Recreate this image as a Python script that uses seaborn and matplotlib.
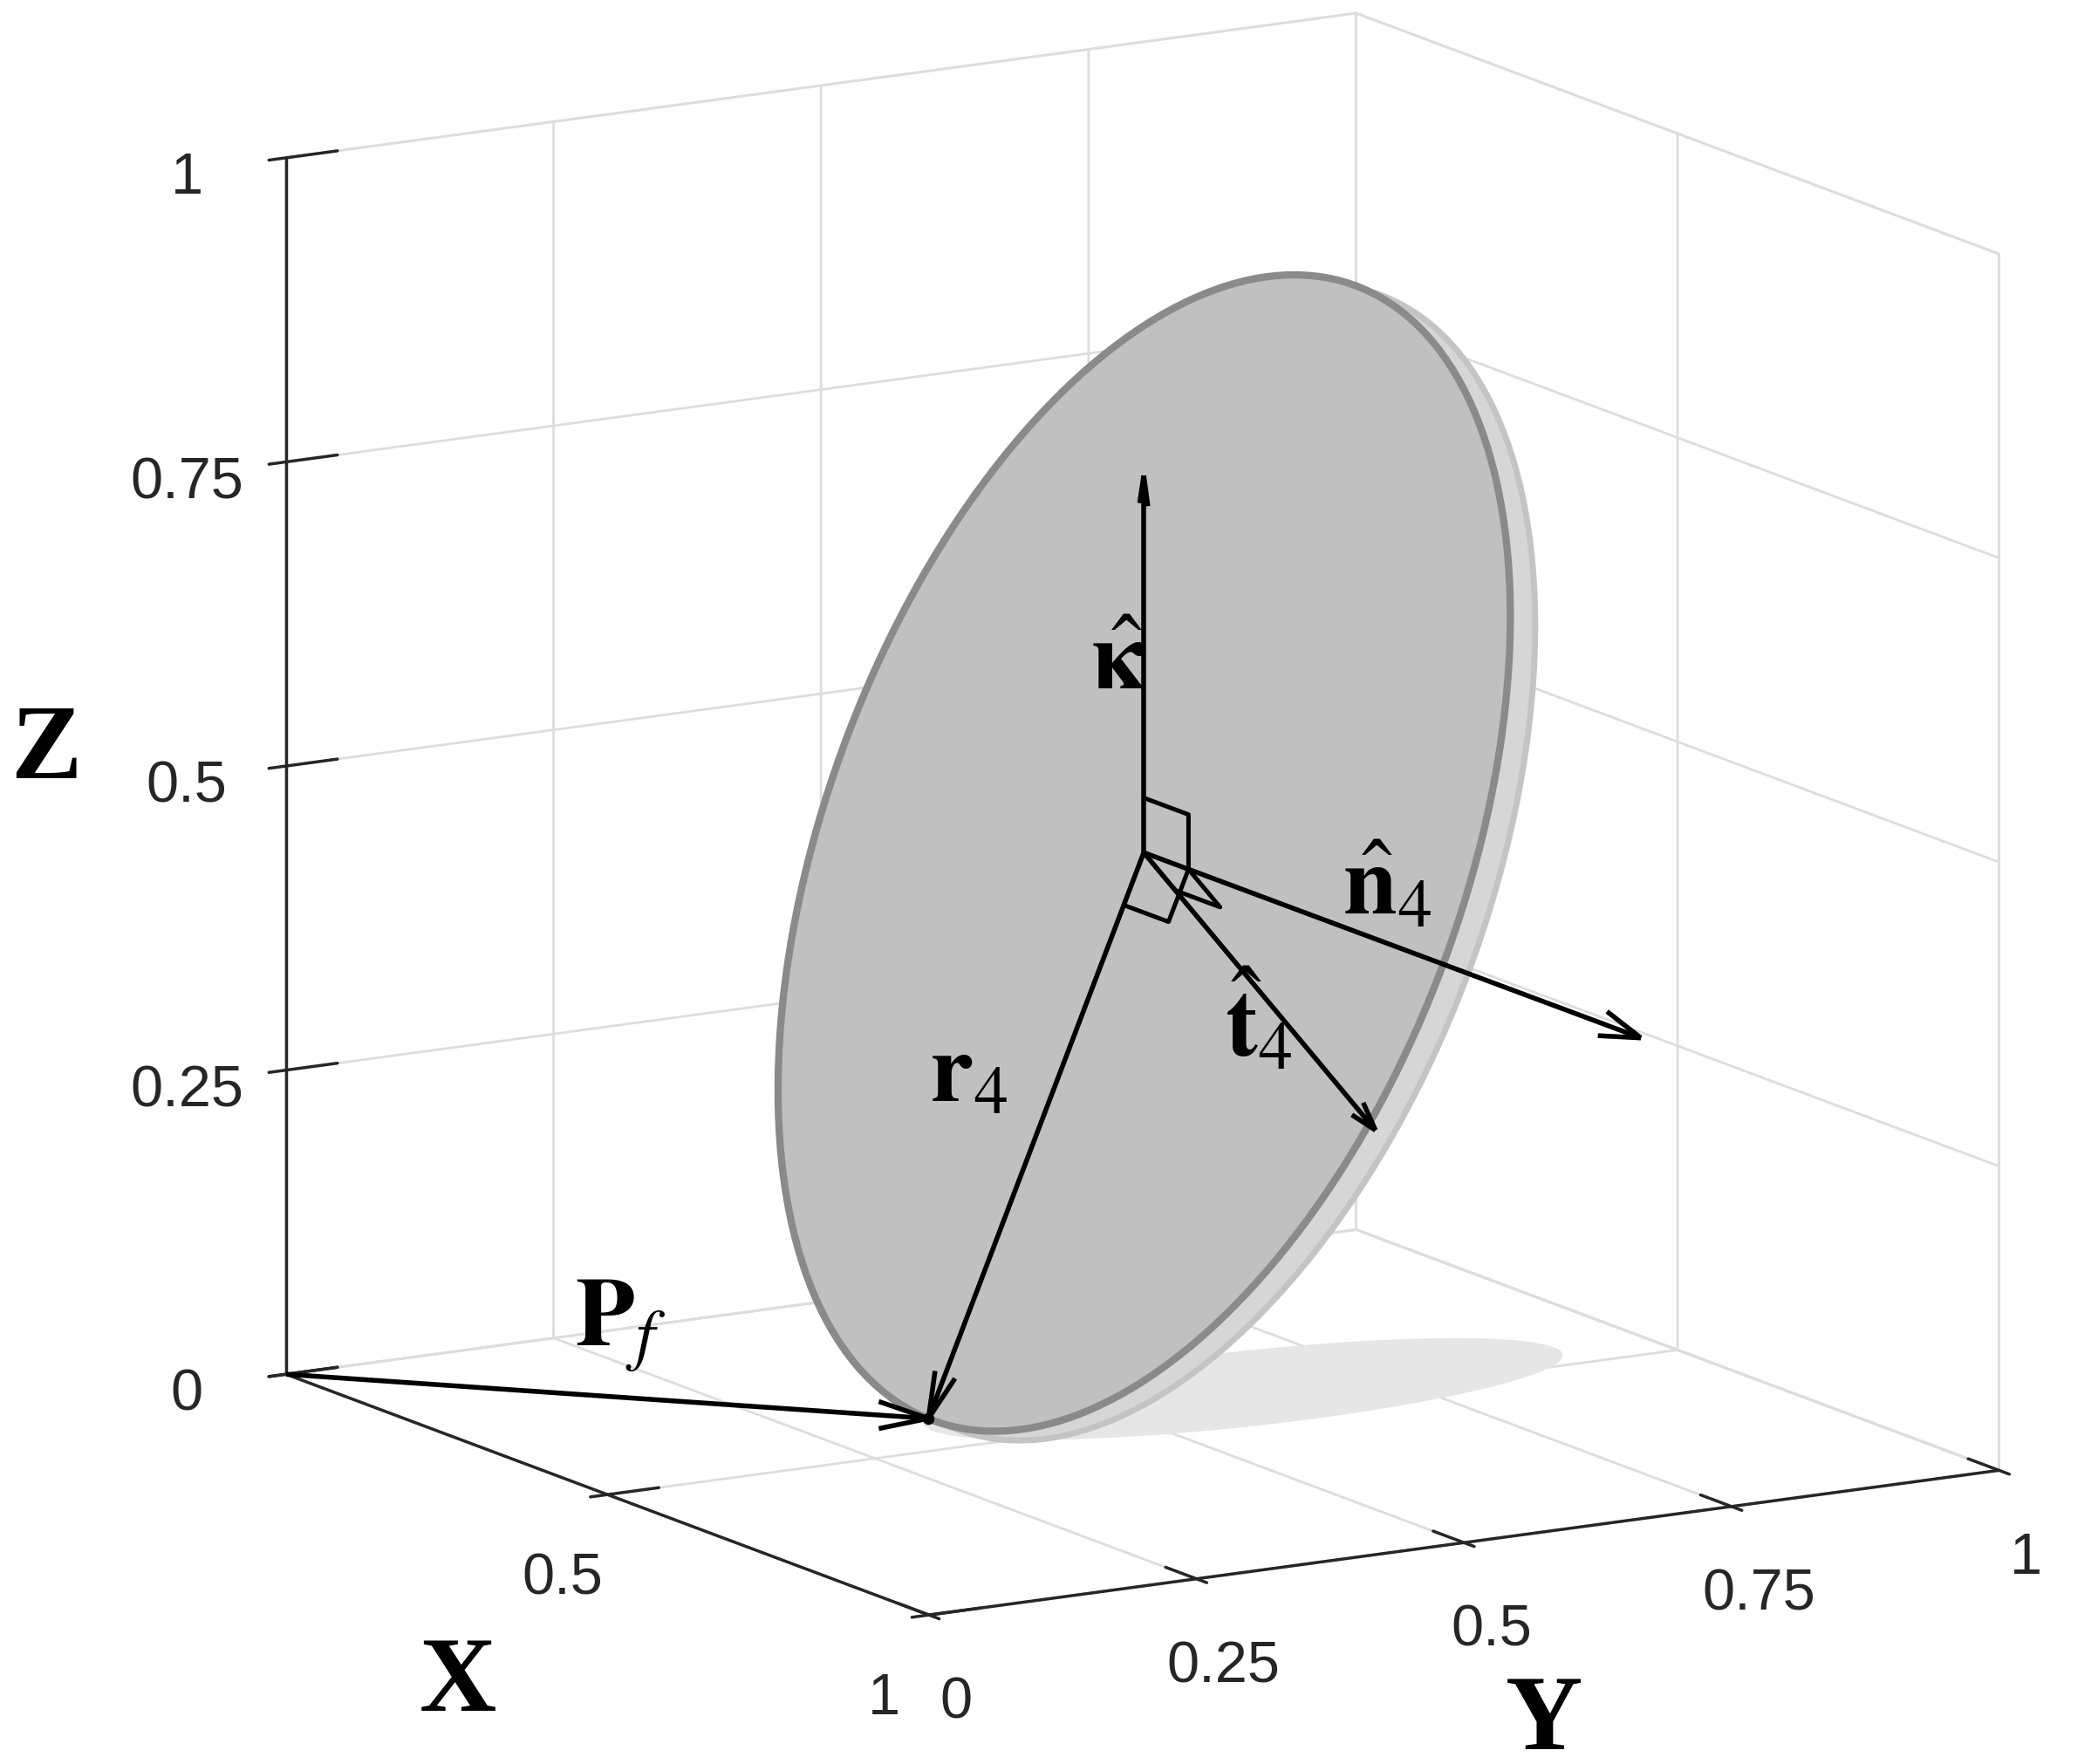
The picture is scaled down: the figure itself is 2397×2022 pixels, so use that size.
import numpy as np
import seaborn as sns
import matplotlib
matplotlib.use("Agg")
import matplotlib.pyplot as plt
from mpl_toolkits.mplot3d.art3d import Poly3DCollection

sns.set_theme(style="white")
plt.rcParams['font.family'] = ['Liberation Sans', 'DejaVu Sans']
plt.rcParams['mathtext.fontset'] = 'stix'

x_ticks = [0, 0.5, 1]
x_ticklabels = ['', '0.5', '1']
y_ticks = [0, 0.25, 0.5, 0.75, 1]
z_ticks = [0, 0.25, 0.5, 0.75, 1]
contact = [0.40, 0.36, 0.0]
radius = 0.485
heading = -0.03   # rad
lean = 0.42       # rad
shadow_center = [0.44, 0.63]
shadow_axes = [0.12, 0.29]

P = np.array(contact)
t = np.array([np.cos(heading), np.sin(heading), 0])
l = np.array([-np.sin(heading), np.cos(heading), 0])
z = np.array([0, 0, 1.0])
u = np.cos(lean) * z + np.sin(lean) * l
n = np.cos(lean) * l - np.sin(lean) * z
C = P + radius * u
th = np.linspace(0, 2 * np.pi, 200)
disc = C + radius * (np.outer(np.cos(th), t) + np.outer(np.sin(th), u))
disc2 = disc + 0.025 * n
shadow = np.column_stack([shadow_center[0] + shadow_axes[0] * np.cos(th),
                          shadow_center[1] + shadow_axes[1] * np.sin(th),
                          np.zeros_like(th)])

fig = plt.figure(figsize=(11.985, 10.11), dpi=200)
ax = fig.add_axes([0.035, 0.025, 1.0, 1.0], projection='3d', computed_zorder=False)
ax.set_proj_type('ortho')
ax.view_init(elev=13, azim=-31)
ax.set_box_aspect((1, 1, 1), zoom=1.19)
ax.set_xlim(0, 1); ax.set_ylim(0, 1); ax.set_zlim(0, 1)
ax.set_xticks(x_ticks); ax.set_yticks(y_ticks); ax.set_zticks(z_ticks)
ax.set_xticklabels(x_ticklabels, fontsize=24)
ax.set_yticklabels([f"{v:g}" for v in y_ticks], fontsize=24)
ax.set_zticklabels([f"{v:g}" for v in z_ticks], fontsize=24)
ax.tick_params(axis='z', pad=14)
ax.tick_params(axis='x', pad=8)
ax.tick_params(axis='y', pad=8)
ax.zaxis.set_ticks_position('lower')
ax.zaxis.set_label_position('lower')
for a in (ax.xaxis, ax.yaxis, ax.zaxis):
    a.pane.fill = False
    a.pane.set_edgecolor('#cccccc')
    a._axinfo['grid']['color'] = '#dddddd'
    a._axinfo['grid']['linewidth'] = 1.0
    a._axinfo['tick']['outward_factor'] = 0.6
    a._axinfo['axisline']['linewidth'] = 1.5
lab = dict(fontsize=44, fontweight='bold', family='Liberation Serif', color='black')
ax.set_xlabel('X', labelpad=32, **lab)
ax.set_ylabel('Y', labelpad=26, **lab)
ax.set_zlabel('Z', labelpad=32, **lab)

ax.add_collection3d(Poly3DCollection([shadow], facecolor='#e6e6e6', edgecolor='none', zorder=1))
ax.add_collection3d(Poly3DCollection([disc2], facecolor='#d6d6d6', edgecolor='#c4c4c4', linewidth=2.5, zorder=2))
ax.add_collection3d(Poly3DCollection([disc], facecolor='#c0c0c0', edgecolor='#8a8a8a', linewidth=3, zorder=3))

def arrow(a, b):
    ax.quiver(a[0], a[1], a[2], b[0]-a[0], b[1]-a[1], b[2]-a[2], color='black',
              linewidth=2, arrow_length_ratio=0.08, zorder=5)
arrow([0, 0, 0], P)
arrow(C, P)
arrow(C, C + 0.31 * z)
arrow(C, C + 0.5 * n)
tv = np.cos(0.45) * n - np.sin(0.45) * u
arrow(C, C + 0.33 * tv)
ax.scatter(*P, color='black', s=15, zorder=6)

# right-angle markers
s = 0.045
for d1, d2 in [(z, n), (-u, n), (tv, n)]:
    sq = np.array([C + s * d1, C + s * d1 + s * d2, C + s * d2])
    ax.plot(sq[:, 0], sq[:, 1], sq[:, 2], color='black', linewidth=1.8, zorder=5)

mt = dict(fontsize=40, color='black', zorder=10)
ax.text(P[0] * 0.45, P[1] * 0.45, 0.04, r'$\mathbf{P}_{\mathit{f}}$', **mt)
M = (C + P) / 2
ax.text(M[0], M[1] - 0.1, M[2] + 0.04, r'$\mathbf{r}_{\mathit{4}}$', **mt)
ax.text(C[0], C[1] - 0.05, C[2] + 0.14, r'$\hat{\mathbf{\kappa}}$', **mt)
N = C + 0.2 * n
ax.text(N[0], N[1], N[2] + 0.01, r'$\hat{\mathbf{n}}_{\mathit{4}}$', **mt)
T = C + 0.1 * tv
ax.text(T[0], T[1] + 0.01, T[2] - 0.10, r'$\hat{\mathbf{t}}_{\mathit{4}}$', **mt)
fig.savefig('out.png', dpi=200)
